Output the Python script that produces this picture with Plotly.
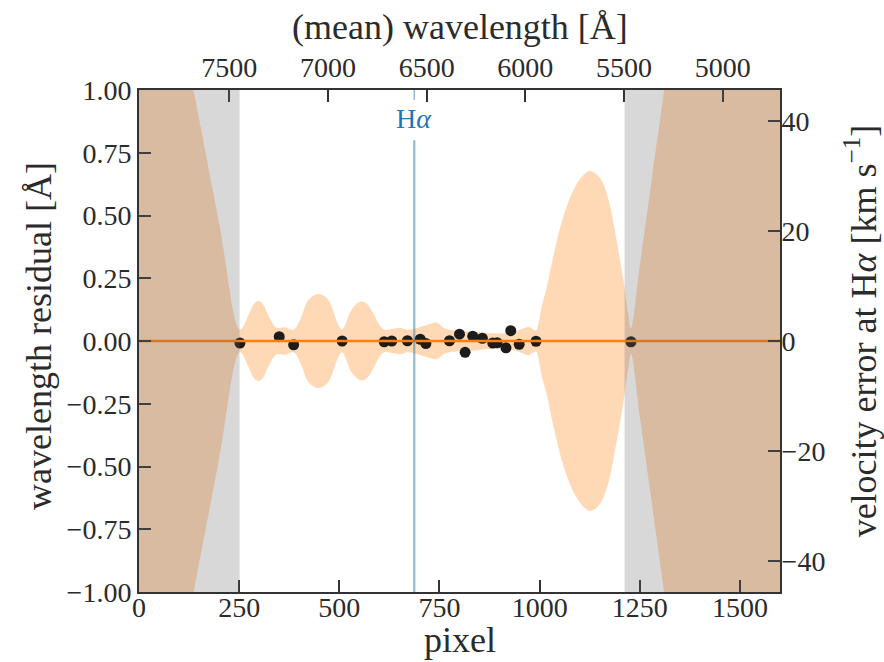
import plotly.graph_objects as go

# Measured arc-line centroids: detector pixel and wavelength residual of the fit [Å]
line_px = [252, 350, 386, 507, 612, 631, 670, 702, 716, 775, 800, 814,
           833, 857, 883, 894, 916, 928, 949, 991, 1228]
line_resid = [-0.008, 0.017, -0.015, 0.000, -0.003, 0.000, 0.001, 0.007,
              -0.010, 0.001, 0.027, -0.045, 0.019, 0.011, -0.008, -0.007,
              -0.027, 0.041, -0.013, -0.001, -0.003]

# 1-sigma half-width of the wavelength solution [Å] along the detector
band_px = [0, 100, 136, 200, 252, 275, 287, 298, 309, 322, 344, 365, 386,
           406, 420, 435, 448, 461, 475, 497, 507, 530, 545, 556, 567, 580,
           602, 612, 631, 651, 670, 689, 710, 731, 743, 764, 800, 840, 870,
           900, 921, 939, 964, 972, 991, 997, 1005, 1018, 1034, 1059, 1084,
           1109, 1126, 1151, 1172, 1192, 1209, 1221, 1228, 1250, 1280, 1311,
           1400, 1600]
band_hw = [2.12, 1.29, 1.00, 0.47, 0.045, 0.11, 0.148, 0.159, 0.148, 0.105,
           0.053, 0.055, 0.045, 0.10, 0.157, 0.180, 0.187, 0.180, 0.157,
           0.066, 0.045, 0.124, 0.150, 0.157, 0.150, 0.124, 0.060, 0.045,
           0.048, 0.053, 0.045, 0.050, 0.060, 0.070, 0.073, 0.050, 0.040,
           0.038, 0.032, 0.030, 0.032, 0.038, 0.053, 0.057, 0.042, 0.070,
           0.137, 0.215, 0.336, 0.495, 0.600, 0.660, 0.677, 0.648, 0.562,
           0.402, 0.243, 0.110, 0.050, 0.30, 0.645, 1.00, 2.01, 4.30]

# Detector regions without arc-line coverage
masked_ranges = [(0, 251), (1212, 1600)]

pixel_ticks = [0, 250, 500, 750, 1000, 1250, 1500]
resid_ticks = [-1.0, -0.75, -0.5, -0.25, 0.0, 0.25, 0.5, 0.75, 1.0]
wave_ticks = [5000, 5500, 6000, 6500, 7000, 7500]
vel_ticks = [-40, -20, 0, 20, 40]

N_PIX = 1600
LAMBDA0 = 7957.6      # mean wavelength at pixel 0 [Å]
DISP = 2.030          # mean dispersion [Å / pixel]
H_ALPHA = 6562.8      # [Å]
C_KMS = 299792.458
RESID_MAX = 1.0

FONT = "Liberation Serif"
INK = "#2b2b2b"
ORANGE = "#ff7f0e"
BLUE = "#1f77b4"

v_max = C_KMS * RESID_MAX / H_ALPHA

fig = go.Figure()

lower = [-h for h in band_hw]
fig.add_trace(go.Scatter(x=band_px, y=lower, mode="lines",
                         line=dict(width=0, shape="spline", smoothing=1.0),
                         hoverinfo="skip", showlegend=False))
fig.add_trace(go.Scatter(x=band_px, y=band_hw, mode="lines",
                         line=dict(width=0, shape="spline", smoothing=1.0),
                         fill="tonexty", fillcolor="rgba(255,127,14,0.3)",
                         hoverinfo="skip", showlegend=False))

# zero velocity error (same as zero wavelength residual)
fig.add_trace(go.Scatter(x=[0, N_PIX], y=[0, 0], xaxis="x", yaxis="y2",
                         mode="lines", line=dict(color=ORANGE, width=2.4),
                         hoverinfo="skip", showlegend=False))

# H-alpha marker on the wavelength axis
fig.add_trace(go.Scatter(x=[H_ALPHA, H_ALPHA], y=[-RESID_MAX, 0.8],
                         xaxis="x2", yaxis="y", mode="lines",
                         line=dict(color="rgba(31,119,180,0.5)", width=2.2),
                         hoverinfo="skip", showlegend=False))
fig.add_trace(go.Scatter(x=[H_ALPHA, H_ALPHA], y=[0.96, RESID_MAX],
                         xaxis="x2", yaxis="y", mode="lines",
                         line=dict(color="rgba(31,119,180,0.5)", width=1.5),
                         hoverinfo="skip", showlegend=False))

# arc-line residuals
fig.add_trace(go.Scatter(x=line_px, y=line_resid, mode="markers",
                         marker=dict(color="#1c1c1c", size=11),
                         showlegend=False))

for x0, x1 in masked_ranges:
    fig.add_shape(type="rect", xref="x", yref="paper", x0=x0, x1=x1,
                  y0=0, y1=1, fillcolor="rgba(100,100,100,0.25)",
                  line=dict(width=0), layer="above")

fig.add_annotation(x=H_ALPHA, xref="x2", y=0.888, yref="y",
                   text="H<i>α</i>", showarrow=False,
                   font=dict(family=FONT, size=28, color=BLUE),
                   xanchor="center", yanchor="middle")

axis_style = dict(showline=True, linecolor="#333333", linewidth=2,
                  ticks="inside", ticklen=12, tickwidth=1.5,
                  tickcolor="#333333", showgrid=False, zeroline=False,
                  tickfont=dict(family=FONT, size=28, color=INK))

fig.update_layout(
    width=884, height=662,
    margin=dict(l=139, r=104, t=90, b=70),
    paper_bgcolor="white", plot_bgcolor="white",
    xaxis=dict(range=[0, N_PIX], tickvals=pixel_ticks,
               ticklabelstandoff=-11, **axis_style),
    xaxis2=dict(range=[LAMBDA0, LAMBDA0 - DISP * N_PIX], tickvals=wave_ticks,
                overlaying="x", side="top", anchor="y",
                ticklabelstandoff=0, **axis_style),
    yaxis=dict(range=[-RESID_MAX, RESID_MAX], tickvals=resid_ticks,
               tickformat=".2f", ticklabelstandoff=0, **axis_style),
    yaxis2=dict(range=[-v_max, v_max], tickvals=vel_ticks,
                overlaying="y", side="right", anchor="x",
                ticklabelstandoff=-6, **axis_style),
)

title_font = dict(family=FONT, size=36, color=INK)
fig.add_annotation(text="pixel", x=0.5, y=-0.096, xref="paper", yref="paper",
                   showarrow=False, font=title_font,
                   xanchor="center", yanchor="middle")
fig.add_annotation(text="(mean) wavelength [Å]", x=0.5, y=1.125,
                   xref="paper", yref="paper", showarrow=False,
                   font=title_font, xanchor="center", yanchor="middle")
fig.add_annotation(text="wavelength residual [Å]", x=-0.156, y=0.51,
                   xref="paper", yref="paper", showarrow=False,
                   font=title_font, textangle=-90,
                   xanchor="center", yanchor="middle")
fig.add_annotation(text="velocity error at H<i>α</i> [km s<sup>−1</sup>]",
                   x=1.127, y=0.52, xref="paper", yref="paper",
                   showarrow=False, font=title_font, textangle=-90,
                   xanchor="center", yanchor="middle")

fig.write_html("out.html")
